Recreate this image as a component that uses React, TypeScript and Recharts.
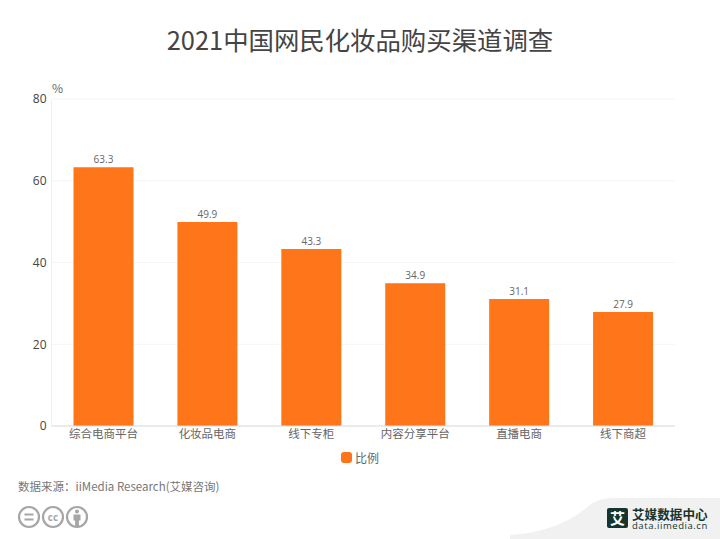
import React from 'react';
import { BarChart, Bar, XAxis, YAxis, CartesianGrid, LabelList, Legend } from 'recharts';

const categories = ['综合电商平台', '化妆品电商', '线下专柜', '内容分享平台', '直播电商', '线下商超'];
const shares = [63.3, 49.9, 43.3, 34.9, 31.1, 27.9];
const yTicks = [0, 20, 40, 60, 80];

const chartData = categories.map((name, i) => ({ name, value: shares[i] }));

const FONT = '"Noto Sans CJK SC", "Open Sans", sans-serif';
const ORANGE = '#ff7519';

// Small rounded-square legend entry
const LegendContent = () => (
  <div style={{ display: 'flex', alignItems: 'center', justifyContent: 'center', fontSize: 12, color: '#666', fontFamily: FONT }}>
    <span style={{ width: 11, height: 11, borderRadius: 3, background: ORANGE, marginRight: 3 }} />
    比例
  </div>
);

// Licence badges, bottom left
const Badges = () => (
  <svg width={80} height={30} style={{ position: 'absolute', left: 14.5, top: 502 }}>
    <g fill="none" stroke="#a6a6a6" strokeWidth={2.2}>
      <circle cx={14} cy={15} r={10} />
      <circle cx={38} cy={15} r={10} />
      <circle cx={62} cy={15} r={10} />
      <path d="M9.5 12.5h9M9.5 17.5h9" />
    </g>
    <text x={38} y={18.5} textAnchor="middle" fontSize={10} fontWeight={700} fill="#a6a6a6" fontFamily="Open Sans">cc</text>
    <circle cx={62} cy={9.5} r={2} fill="#a6a6a6" />
    <path d="M58.5 12.5h7v6h-1.6v6h-3.8v-6h-1.6z" fill="#a6a6a6" />
  </svg>
);

// Grey swoosh and iiMedia mark, bottom right
const Brand = () => (
  <svg width={260} height={60} style={{ position: 'absolute', left: 460, top: 479 }}>
    <path d="M50 56C85 54 110 42 125 30C135 20 145 19 160 19H260V60H50Z" fill="#f1f1f1" />
    <rect x={147} y={29} width={21} height={20} rx={2} fill="#16352f" />
    <text x={157.5} y={44.5} textAnchor="middle" fontSize={15} fontWeight={700} fill="#fff" fontFamily={FONT}>艾</text>
    <text x={172} y={39.5} fontSize={12.6} fontWeight={700} fill="#16352f" fontFamily={FONT}>艾媒数据中心</text>
    <text x={172} y={50} fontSize={9.5} fill="#16352f" letterSpacing={0.55} fontFamily="Open Sans">data.iimedia.cn</text>
  </svg>
);

export default function App() {
  return (
    <div style={{ position: 'absolute', left: 0, top: 0, width: 720, height: 539, overflow: 'hidden', background: '#fff', fontFamily: FONT }}>
      <div style={{ position: 'absolute', top: 21, left: 0, width: 720, textAlign: 'center', fontSize: 25.4, lineHeight: '36px', color: '#444' }}>
        2021中国网民化妆品购买渠道调查
      </div>
      <div style={{ position: 'absolute', left: 52, top: 80, fontSize: 12, lineHeight: '16px', color: '#666' }}>%</div>

      <BarChart
        width={720}
        height={539}
        data={chartData}
        margin={{ top: 99, right: 45, bottom: 0, left: 0 }}
        style={{ position: 'absolute', left: 0, top: 0 }}
      >
        <CartesianGrid vertical={false} stroke="#f5f5f5" />
        <XAxis
          dataKey="name"
          height={96}
          interval={0}
          tickLine={false}
          tickSize={0}
          axisLine={{ stroke: '#dcdcdc' }}
          tick={{ fill: '#666', fontSize: 11.5, fontFamily: FONT }}
          tickMargin={4}
        />
        <YAxis
          width={51.5}
          domain={[0, 80]}
          ticks={yTicks}
          tickLine={false}
          tickSize={0}
          axisLine={{ stroke: '#f0f0f0' }}
          tick={{ fill: '#444', fontSize: 12, fontFamily: '"Open Sans", sans-serif' }}
          tickMargin={5}
        />
        <Legend content={<LegendContent />} wrapperStyle={{ left: 0, width: 720, top: 449, bottom: 'auto' }} />
        <Bar dataKey="value" name="比例" fill={ORANGE} barSize={60} isAnimationActive={false}>
          <LabelList dataKey="value" position="top" fill="#666" fontSize={10} fontFamily='"Open Sans", sans-serif' offset={4} />
        </Bar>
      </BarChart>

      <div style={{ position: 'absolute', left: 18, top: 478, fontSize: 11.5, lineHeight: '17px', color: '#777' }}>
        数据来源：iiMedia Research(艾媒咨询)
      </div>
      <Badges />
      <Brand />
    </div>
  );
}
